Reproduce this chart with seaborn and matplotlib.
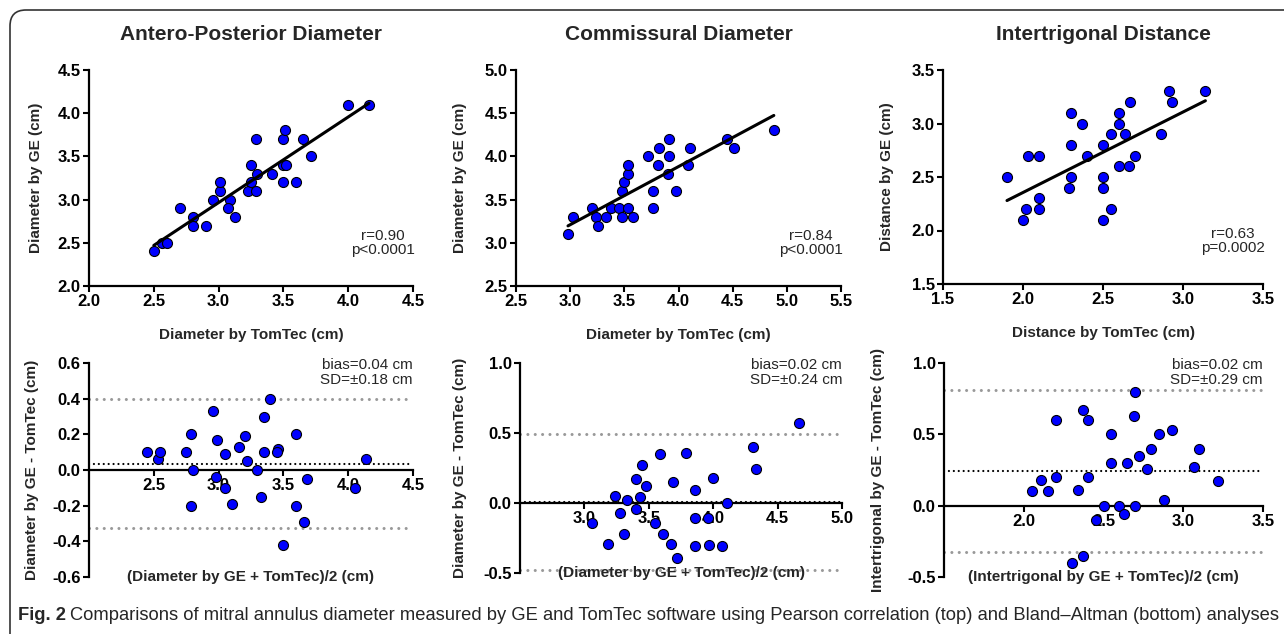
import matplotlib
matplotlib.use('Agg')
import matplotlib.pyplot as plt
from matplotlib.patches import FancyBboxPatch
import seaborn as sns
import pandas as pd

# Correlation data (top row): TomTec on x, GE on y
ap_tomtec = [2.50, 2.56, 2.60, 2.70, 2.80, 2.80, 2.90, 2.96, 3.01, 3.01, 3.09, 3.07, 3.13, 3.23, 3.25,
             3.25, 3.29, 3.29, 3.30, 3.41, 3.50, 3.51, 3.50, 3.52, 3.50, 3.60, 3.65, 3.71, 4.00, 4.16]
ap_ge = [2.40, 2.50, 2.50, 2.90, 2.80, 2.70, 2.70, 3.00, 3.10, 3.20, 3.00, 2.90, 2.80, 3.10, 3.20,
         3.40, 3.70, 3.10, 3.30, 3.30, 3.70, 3.80, 3.40, 3.40, 3.20, 3.20, 3.70, 3.50, 4.10, 4.10]

com_tomtec = [2.98, 3.03, 3.20, 3.24, 3.26, 3.33, 3.38, 3.45, 3.48, 3.48, 3.50, 3.53, 3.53, 3.53, 3.58,
              3.72, 3.76, 3.76, 3.81, 3.82, 3.90, 3.91, 3.91, 3.98, 4.09, 4.11, 4.45, 4.51, 4.88]
com_ge = [3.10, 3.30, 3.40, 3.30, 3.20, 3.30, 3.40, 3.40, 3.60, 3.30, 3.70, 3.80, 3.90, 3.40, 3.30,
          4.00, 3.60, 3.40, 3.90, 4.10, 3.80, 4.20, 4.00, 3.60, 3.90, 4.10, 4.20, 4.10, 4.30]

it_tomtec = [1.90, 2.00, 2.02, 2.03, 2.10, 2.10, 2.10, 2.29, 2.30, 2.30, 2.30, 2.37, 2.40, 2.50, 2.50,
             2.50, 2.50, 2.55, 2.55, 2.60, 2.60, 2.60, 2.64, 2.66, 2.67, 2.70, 2.86, 2.91, 2.93, 3.14]
it_ge = [2.50, 2.10, 2.20, 2.70, 2.70, 2.30, 2.20, 2.40, 3.10, 2.80, 2.50, 3.00, 2.70, 2.80, 2.50,
         2.40, 2.10, 2.90, 2.20, 3.10, 3.00, 2.60, 2.90, 2.60, 3.20, 2.70, 2.90, 3.30, 3.20, 3.30]

# Bland-Altman data (bottom row): mean on x, difference on y
ap_mean = [2.45, 2.53, 2.55, 2.75, 2.79, 2.80, 2.79, 2.96, 2.99, 2.98, 3.05, 3.05, 3.10, 3.16, 3.20,
           3.22, 3.30, 3.33, 3.35, 3.35, 3.40, 3.46, 3.45, 3.50, 3.60, 3.60, 3.66, 3.68, 4.05, 4.14]
ap_diff = [0.10, 0.06, 0.10, 0.10, 0.20, 0.00, -0.20, 0.33, 0.17, -0.04, 0.09, -0.10, -0.19, 0.13, 0.19,
           0.05, 0.00, -0.15, 0.30, 0.10, 0.40, 0.12, 0.10, -0.42, 0.20, -0.20, -0.29, -0.05, -0.10, 0.06]

com_mean = [3.06, 3.18, 3.24, 3.28, 3.31, 3.33, 3.40, 3.40, 3.43, 3.45, 3.48, 3.55, 3.59, 3.61, 3.67,
            3.69, 3.72, 3.79, 3.86, 3.86, 3.86, 3.96, 3.97, 4.00, 4.07, 4.11, 4.31, 4.33, 4.67]
com_diff = [-0.14, -0.29, 0.05, -0.07, -0.22, 0.02, 0.17, -0.04, 0.04, 0.27, 0.12, -0.14, 0.35, -0.22, -0.29,
            0.15, -0.39, 0.36, 0.09, -0.11, -0.31, -0.11, -0.30, 0.18, -0.31, 0.00, 0.40, 0.24, 0.57]

it_mean = [2.05, 2.11, 2.15, 2.20, 2.20, 2.30, 2.34, 2.37, 2.37, 2.40, 2.40, 2.45, 2.50, 2.55, 2.55,
           2.60, 2.63, 2.65, 2.69, 2.70, 2.70, 2.72, 2.77, 2.80, 2.85, 2.88, 2.93, 3.07, 3.10, 3.22]
it_diff = [0.10, 0.18, 0.10, 0.60, 0.20, -0.40, 0.11, 0.67, -0.35, 0.60, 0.20, -0.10, 0.00, 0.50, 0.30,
           0.00, -0.06, 0.30, 0.63, 0.80, 0.00, 0.35, 0.26, 0.40, 0.50, 0.04, 0.53, 0.27, 0.40, 0.17]

# bias line and limits of agreement (as drawn)
ba_bias = [0.035, 0.01, 0.24]
ba_upper = [0.40, 0.49, 0.81]
ba_lower = [-0.325, -0.48, -0.325]

titles = ['Antero-Posterior Diameter', 'Commissural Diameter', 'Intertrigonal Distance']
top_xlabels = ['Diameter by TomTec (cm)', 'Diameter by TomTec (cm)', 'Distance by TomTec (cm)']
top_ylabels = ['Diameter by GE (cm)', 'Diameter by GE (cm)', 'Distance by GE (cm)']
bot_xlabels = ['(Diameter by GE + TomTec)/2 (cm)', '(Diameter by GE + TomTec)/2 (cm)',
               '(Intertrigonal by GE + TomTec)/2 (cm)']
bot_ylabels = ['Diameter by GE - TomTec (cm)', 'Diameter by GE - TomTec (cm)',
               'Intertrigonal by GE - TomTec (cm)']
stats_text = ['r=0.90\np<0.0001', 'r=0.84\np<0.0001', 'r=0.63\np=0.0002']
bias_text = ['bias=0.04 cm\nSD=\u00b10.18 cm', 'bias=0.02 cm\nSD=\u00b10.24 cm', 'bias=0.02 cm\nSD=\u00b10.29 cm']

top_xlim = [(2.0, 4.5), (2.5, 5.5), (1.5, 3.5)]
top_ylim = [(2.0, 4.5), (2.5, 5.0), (1.5, 3.5)]
top_xticks = [[2.0, 2.5, 3.0, 3.5, 4.0, 4.5], [2.5, 3.0, 3.5, 4.0, 4.5, 5.0, 5.5], [1.5, 2.0, 2.5, 3.0, 3.5]]
bot_xlim = [(2.0, 4.5), (2.5, 5.0), (1.5, 3.5)]
bot_ylim = [(-0.6, 0.6), (-0.5, 1.0), (-0.5, 1.0)]
bot_xticks = [[2.5, 3.0, 3.5, 4.0, 4.5], [3.0, 3.5, 4.0, 4.5, 5.0], [2.0, 2.5, 3.0, 3.5]]
bot_yticks = [[-0.6, -0.4, -0.2, 0.0, 0.2, 0.4, 0.6], [-0.5, 0.0, 0.5, 1.0], [-0.5, 0.0, 0.5, 1.0]]

corr_sets = [(ap_tomtec, ap_ge), (com_tomtec, com_ge), (it_tomtec, it_ge)]
ba_sets = [(ap_mean, ap_diff), (com_mean, com_diff), (it_mean, it_diff)]

sns.set_style('ticks')
plt.rcParams['font.family'] = ['Liberation Sans', 'DejaVu Sans']

W, H = 1284, 634
fig = plt.figure(figsize=(W / 100, H / 100), dpi=100)

# axes boxes in pixels: left, right, top, bottom
top_boxes = [(89, 413, 70, 286), (516, 841, 70, 286), (943, 1263, 70, 284)]
bot_boxes = [(89, 413, 363, 577), (520, 842, 363, 573), (944, 1263, 363, 577)]
top_ylab_x = [-0.142, -0.151, -0.153]
bot_ylab_x = [-0.154, -0.165, -0.185]


def make_ax(box):
    l, r, t, b = box
    return fig.add_axes([l / W, 1 - b / H, (r - l) / W, (b - t) / H])


def style_ax(ax):
    for side in ['left', 'bottom']:
        ax.spines[side].set_linewidth(1.6)
        ax.spines[side].set_color('black')
    sns.despine(ax=ax)
    ax.tick_params(direction='out', length=4.5, width=1.5, colors='black', labelsize=12, pad=1.5)
    for lab in ax.get_xticklabels() + ax.get_yticklabels():
        lab.set_fontweight('bold')


dot = dict(s=52, color='#0000ff', edgecolor='black', linewidths=0.8, alpha=1, zorder=3)

for i in range(3):
    # correlation panels
    ax = make_ax(top_boxes[i])
    df = pd.DataFrame({'x': corr_sets[i][0], 'y': corr_sets[i][1]})
    sns.regplot(data=df, x='x', y='y', ax=ax, ci=None,
                scatter_kws=dot, line_kws=dict(color='black', lw=2.2, zorder=4))
    ax.set_xlim(top_xlim[i])
    ax.set_ylim(top_ylim[i])
    ax.set_xticks(top_xticks[i])
    ax.set_yticks([v / 2 for v in range(int(top_ylim[i][0] * 2), int(top_ylim[i][1] * 2) + 1)])
    ax.set_xticklabels([f'{v:.1f}' for v in top_xticks[i]])
    ax.set_yticklabels([f'{v:.1f}' for v in ax.get_yticks()])
    ax.set_xlabel(top_xlabels[i], fontsize=11, fontweight='bold')
    ax.set_ylabel(top_ylabels[i], fontsize=11, fontweight='bold')
    ax.xaxis.set_label_coords(0.5, -0.195)
    ax.yaxis.set_label_coords(top_ylab_x[i], 0.5)
    ax.text(0.5, 1.165, titles[i], transform=ax.transAxes, ha='center', va='center',
            fontsize=15, fontweight='bold')
    ax.text(0.907, 0.2, stats_text[i], transform=ax.transAxes, ha='center', va='center',
            fontsize=11, linespacing=1.05)
    style_ax(ax)

    # Bland-Altman panels
    ax = make_ax(bot_boxes[i])
    df = pd.DataFrame({'mean': ba_sets[i][0], 'diff': ba_sets[i][1]})
    ax.axhline(ba_upper[i], color='#999999', lw=2.2, ls=(0, (0.01, 2.4)), dash_capstyle='round', zorder=1)
    ax.axhline(ba_lower[i], color='#999999', lw=2.2, ls=(0, (0.01, 2.4)), dash_capstyle='round', zorder=1)
    ax.axhline(ba_bias[i], color='black', lw=1.6, ls=(0, (0.01, 2.2)), dash_capstyle='round', zorder=2)
    sns.scatterplot(data=df, x='mean', y='diff', ax=ax, **dot)
    ax.set_xlim(bot_xlim[i])
    ax.set_ylim(bot_ylim[i])
    ax.set_xticks(bot_xticks[i])
    ax.set_yticks(bot_yticks[i])
    ax.set_xticklabels([f'{v:.1f}' for v in bot_xticks[i]])
    ax.set_yticklabels([f'{v:.1f}' for v in bot_yticks[i]])
    ax.spines['bottom'].set_position(('data', 0))
    ax.set_xlabel('')
    ax.set_ylabel(bot_ylabels[i], fontsize=11, fontweight='bold')
    ax.yaxis.set_label_coords(bot_ylab_x[i], 0.5)
    ax.text(0.5, 0.0, bot_xlabels[i], transform=ax.transAxes, ha='center', va='center',
            fontsize=11, fontweight='bold')
    ax.text(1.0, 0.955, bias_text[i], transform=ax.transAxes, ha='right', va='center',
            fontsize=11, linespacing=1.15)
    style_ax(ax)

# caption
fig.text(18 / W, 1 - 616 / H, 'Fig. 2', fontsize=13.2, fontweight='bold', va='center')
fig.text(70 / W, 1 - 616 / H,
         'Comparisons of mitral annulus diameter measured by GE and TomTec software using Pearson '
         'correlation (top) and Bland\u2013Altman (bottom) analyses',
         fontsize=13.2, va='center')

# rounded frame, cut off at right and bottom
frame = FancyBboxPatch((0.10, -0.5), 14.0, 6.74, boxstyle='round,pad=0,rounding_size=0.16',
                       transform=fig.dpi_scale_trans, fill=False, edgecolor='#333333', lw=1.2)
fig.patches.append(frame)

fig.savefig('out.png', dpi=100)
